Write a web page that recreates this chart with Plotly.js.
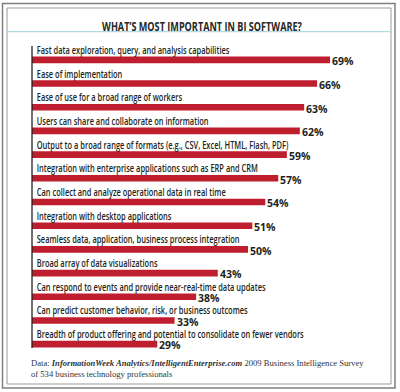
<!DOCTYPE html>
<html>
<head>
<meta charset="utf-8">
<script src="https://cdn.plot.ly/plotly-3.0.1.min.js"></script>
<style>html,body{margin:0;padding:0;background:#fff;overflow:hidden;width:400px;height:392px;}#chart{width:400px;height:392px;}</style>
</head>
<body>
<div id="chart"></div>
<script>
const categories = [
  "Fast data exploration, query, and analysis capabilities",
  "Ease of implementation",
  "Ease of use for a broad range of workers",
  "Users can share and collaborate on information",
  "Output to a broad range of formats (e.g., CSV, Excel, HTML, Flash, PDF)",
  "Integration with enterprise applications such as ERP and CRM",
  "Can collect and analyze operational data in real time",
  "Integration with desktop applications",
  "Seamless data, application, business process integration",
  "Broad array of data visualizations",
  "Can respond to events and provide near-real-time data updates",
  "Can predict customer behavior, risk, or business outcomes",
  "Breadth of product offering and potential to consolidate on fewer vendors"
];
const values = [69, 66, 63, 62, 59, 57, 54, 51, 50, 43, 38, 33, 29];
const valueLabels = values.map(v => v + "%");
const titleText = "WHAT\u2019S MOST IMPORTANT IN BI SOFTWARE?";
const sourceText = "Data: <b><i>InformationWeek Analytics/IntelligentEnterprise.com</i></b> 2009 Business Intelligence Survey<br>of 534 business technology professionals";

const W = 400, H = 392;
const M = {l: 32, r: 0, t: 48, b: 36, pad: 0, autoexpand: false};
const PW = W - M.l - M.r, PH = H - M.t - M.b;
const px2x = px => (px - M.l) / PW;
const py2y = py => (H - M.b - py) / PH;

const labelFont = '"Open Sans", "DejaVu Sans", sans-serif';
const barColor = '#bf1e2e';

const trace = {
  type: 'bar',
  orientation: 'h',
  y: categories,
  x: values,
  width: 0.28,
  marker: {color: barColor, line: {width: 0}},
  hoverinfo: 'none'
};

const annotations = [];
categories.forEach((c, i) => {
  annotations.push({
    xref: 'x', yref: 'y', x: 0, y: c,
    text: c, showarrow: false, xanchor: 'left', yanchor: 'middle', align: 'left',
    xshift: 3.5, yshift: 10, borderpad: 0,
    font: {family: labelFont, size: 10, color: '#231f20', weight: 600}
  });
  annotations.push({
    xref: 'x', yref: 'y', x: values[i], y: c,
    text: valueLabels[i], showarrow: false, xanchor: 'left', yanchor: 'middle', align: 'left',
    xshift: 1, yshift: -1.3, borderpad: 0,
    font: {family: labelFont, size: 10.5, color: '#231f20', weight: 700}
  });
});
annotations.push({
  xref: 'paper', yref: 'paper', x: px2x(29), y: py2y(356),
  text: sourceText, showarrow: false, xanchor: 'left', yanchor: 'top', align: 'left',
  font: {family: '"Liberation Serif", "DejaVu Serif", serif', size: 8.6, color: '#333'}
});

const shapes = [
  {type: 'rect', xref: 'paper', yref: 'paper', x0: px2x(2.5), x1: px2x(395), y0: py2y(3.5), y1: py2y(388),
   line: {color: '#7f7f7f', width: 1.5}},
  {type: 'rect', xref: 'paper', yref: 'paper', x0: px2x(7), x1: px2x(391), y0: py2y(8), y1: py2y(384),
   line: {color: '#9a9a9a', width: 1}},
  {type: 'line', xref: 'paper', yref: 'paper', x0: px2x(7.5), x1: px2x(390.5), y0: py2y(31.7), y1: py2y(31.7),
   line: {color: '#9fd0de', width: 1}},
  {type: 'line', xref: 'paper', yref: 'paper', x0: 0, x1: 0, y0: py2y(46), y1: py2y(348),
   line: {color: '#231f20', width: 1.3}}
];

const layout = {
  width: W, height: H,
  autosize: false,
  margin: M,
  paper_bgcolor: '#fff', plot_bgcolor: 'rgba(0,0,0,0)',
  showlegend: false,
  title: {text: titleText, x: 202 / W, xanchor: 'center', xref: 'container',
          y: 1 - 26.5 / H, yanchor: 'middle', yref: 'container', automargin: false,
          font: {family: labelFont, size: 13, color: '#262626', weight: 700}},
  xaxis: {range: [0, PW / 4.32], visible: false, fixedrange: true, automargin: false},
  yaxis: {type: 'category', range: [12.5, -0.5], visible: false, fixedrange: true, automargin: false},
  annotations: annotations,
  shapes: shapes
};

// Reference uses a condensed typeface: compress label boxes horizontally about their left edge.
function condense(gd) {
  const texts = Array.from(gd.querySelectorAll('.annotation-text'));
  const catTexts = texts.filter(t => categories.includes(t.textContent));
  const first = catTexts.find(t => t.textContent === categories[0]);
  if (first) {
    const k = 193 / first.getComputedTextLength();
    catTexts.forEach(t => {
      const g = t.parentNode;
      const tr = g.getAttribute('transform') || '';
      g.setAttribute('transform', tr + ' scale(' + k.toFixed(4) + ',1)');
    });
  }
  const title = gd.querySelector('.gtitle');
  if (title) {
    const len = title.getComputedTextLength();
    const k = 200 / len;
    const cx = parseFloat(title.getAttribute('x')) || 0;
    const tr = title.getAttribute('transform') || '';
    title.setAttribute('transform', tr + ' translate(' + cx + ',0) scale(' + k.toFixed(4) + ',1) translate(' + (-cx) + ',0)');
  }
}

Plotly.newPlot('chart', [trace], layout, {displayModeBar: false, staticPlot: true, responsive: false})
  .then(condense);
</script>
</body>
</html>
